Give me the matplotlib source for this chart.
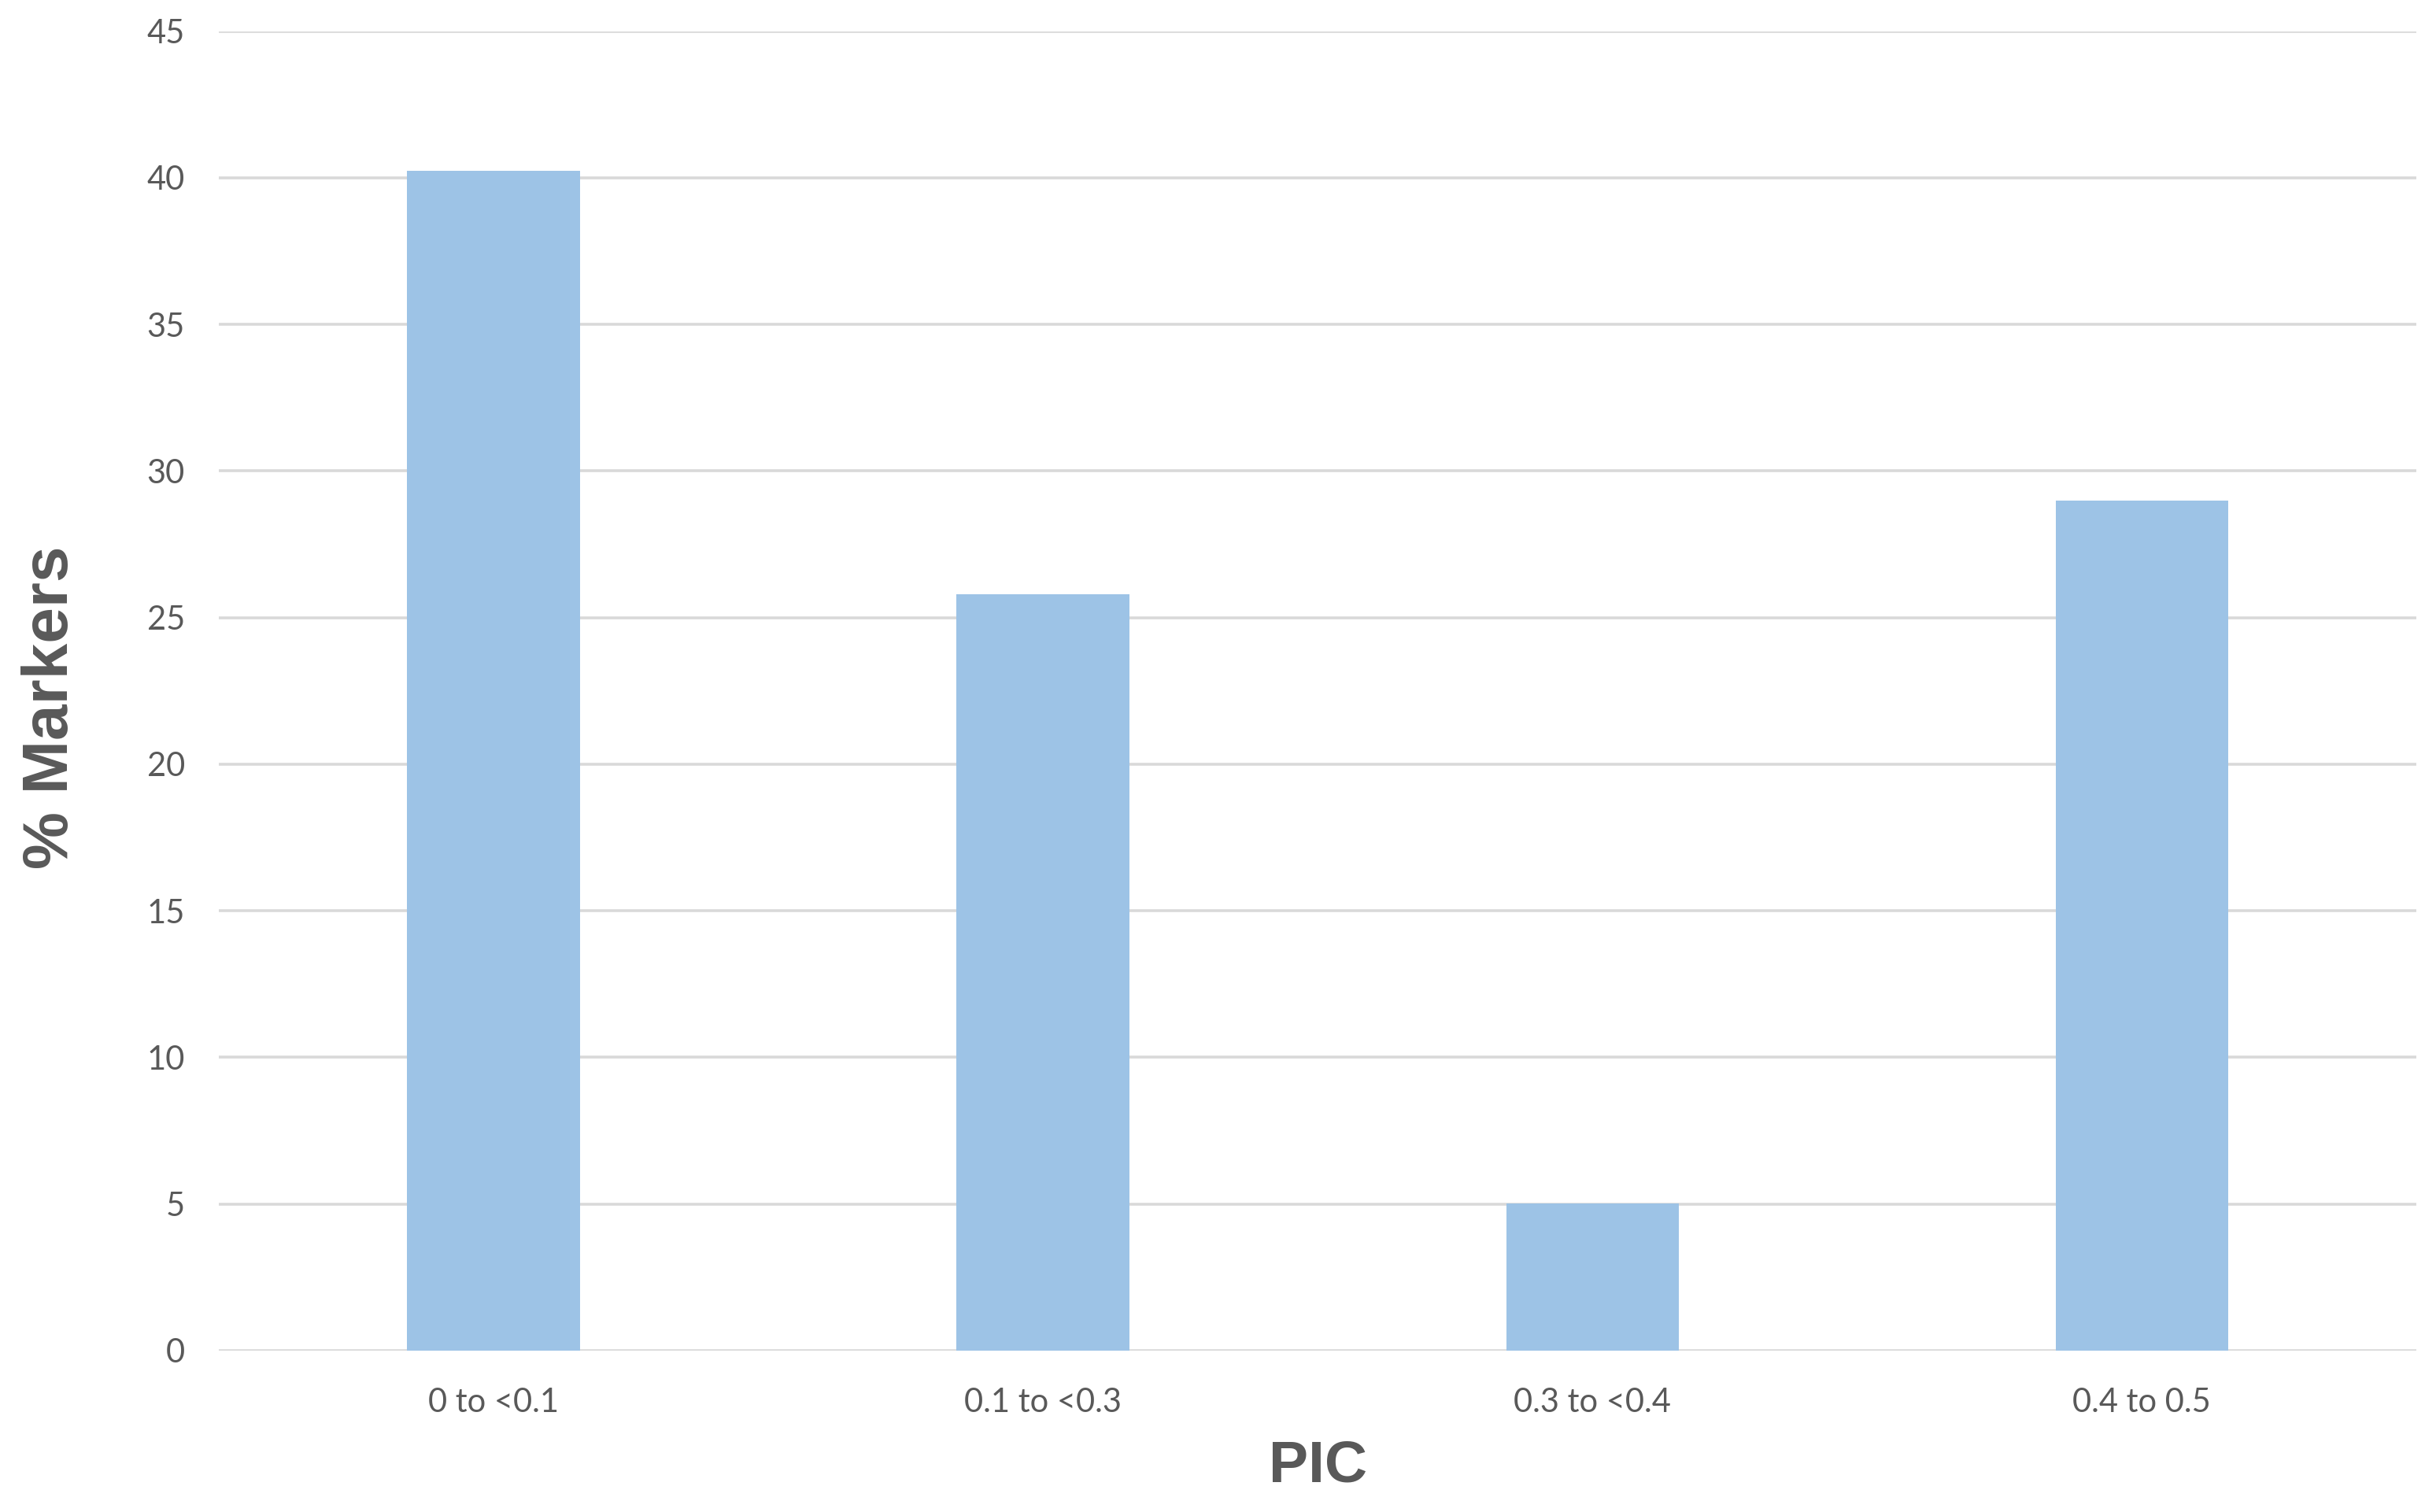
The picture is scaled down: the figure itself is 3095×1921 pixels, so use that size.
import matplotlib
matplotlib.use("Agg")
import matplotlib.pyplot as plt

# 데이터
categories = ["0 to <0.1", "0.1 to <0.3", "0.3 to <0.4", "0.4 to 0.5"]
pct_markers = [40.25, 25.8, 5.02, 29.0]
y_ticks = [0, 5, 10, 15, 20, 25, 30, 35, 40, 45]

BAR = "#9dc3e6"
GRID = "#d9d9d9"
TXT = "#595959"

fig = plt.figure(figsize=(30.95, 19.21), dpi=100, facecolor="white")
ax = fig.add_axes([0.0898, 0.1068, 0.9022, 0.8726])

x = range(len(categories))
ax.bar(x, pct_markers, width=0.314, color=BAR, zorder=2)

ax.set_xlim(-0.5, len(categories) - 0.5)
ax.set_ylim(0, 45)
ax.set_yticks(y_ticks)
ax.set_xticks(list(x))
ax.set_xticklabels(categories)

ax.yaxis.grid(True, color=GRID, linewidth=2.6, zorder=0)
ax.set_axisbelow(True)
for s in ax.spines.values():
    s.set_visible(False)
ax.tick_params(length=0, labelsize=30, labelcolor=TXT)
ax.tick_params(axis="y", pad=31)
ax.tick_params(axis="x", pad=34)
for lab in ax.get_xticklabels() + ax.get_yticklabels():
    lab.set_family(["Lato", "DejaVu Sans"])

fig.text(0.541, 0.030, "PIC", ha="center", va="center", fontsize=54,
         fontweight="bold", color=TXT, family="Liberation Sans")
fig.text(0.021, 0.532, "% Markers", ha="center", va="center", rotation=90,
         fontsize=59, fontweight="bold", color=TXT, family="Liberation Sans")

fig.savefig("out.png", dpi=100, facecolor="white")
